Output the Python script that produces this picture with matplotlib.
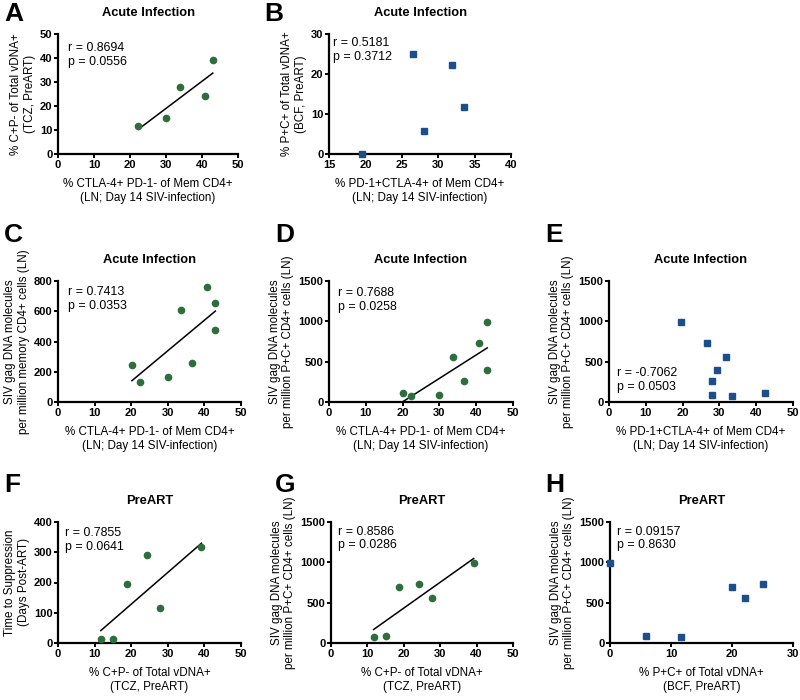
import numpy as np
import matplotlib
matplotlib.use("Agg")
import matplotlib.pyplot as plt

plt.rcParams['font.family'] = ['Liberation Sans', 'DejaVu Sans']

GREEN = "#2d6e3c"
BLUE = "#1c4f8a"

# Panel data
A_x = [22.3, 30.0, 33.8, 40.9, 43.0]
A_y = [11.5, 15.0, 27.8, 24.3, 39.0]
B_x = [19.6, 26.5, 28.1, 31.9, 33.5]
B_y = [0.0, 25.0, 5.8, 22.2, 11.7]
C_x = [20.2, 22.3, 30.0, 33.7, 36.7, 40.8, 42.8, 43.0]
C_y = [245, 135, 165, 610, 258, 760, 478, 655]
D_x = [20.2, 22.3, 30.0, 33.7, 36.7, 40.8, 42.8, 43.0]
D_y = [115, 70, 85, 560, 255, 730, 395, 990]
E_x = [19.5, 26.5, 28.1, 28.1, 29.3, 31.9, 33.5, 42.4]
E_y = [990, 730, 255, 85, 395, 560, 70, 115]
F_x = [11.7, 15.0, 18.8, 24.3, 27.8, 39.2]
F_y = [13, 13, 195, 290, 117, 318]
G_x = [11.7, 15.0, 18.8, 24.3, 27.8, 39.2]
G_y = [70, 85, 700, 730, 560, 990]
H_x = [0.0, 5.9, 11.7, 20.0, 22.2, 25.0]
H_y = [990, 85, 70, 700, 560, 730]

W, H = 800, 700
fig = plt.figure(figsize=(8, 7), dpi=100)


def px_axes(x0, y0, x1, y1):
    return fig.add_axes([x0 / W, 1 - y1 / H, (x1 - x0) / W, (y1 - y0) / H])


def panel(box, xs, ys, color, marker, xlim, xticks, ylim, yticks,
          title, xlabel, ylabel, stats, fit=False, stats_pos=(0.05, 0.93)):
    ax = px_axes(*box)
    ax.set_xlim(*xlim)
    ax.set_ylim(*ylim)
    ax.set_xticks(xticks)
    ax.set_yticks(yticks)
    for s in ['top', 'right']:
        ax.spines[s].set_visible(False)
    for s in ['left', 'bottom']:
        ax.spines[s].set_linewidth(1.6)
    ax.tick_params(width=1.4, length=3, labelsize=8, pad=1)
    for lab in ax.get_xticklabels() + ax.get_yticklabels():
        lab.set_fontweight('bold')
    ax.plot(xs, ys, linestyle='none', marker=marker, color=color,
            markersize=4.5, clip_on=False, zorder=3)
    if fit:
        k, b = np.polyfit(xs, ys, 1)
        xx = np.array([min(xs), max(xs)])
        ax.plot(xx, k * xx + b, color='black', lw=1.1, zorder=2)
    ax.set_title(title, fontsize=9.3, fontweight='bold', pad=13)
    ax.set_xlabel(xlabel, fontsize=8.4, labelpad=6, linespacing=1.2)
    ax.set_ylabel(ylabel, fontsize=8.4, labelpad=3, linespacing=1.15)
    ax.text(stats_pos[0], stats_pos[1], stats, transform=ax.transAxes,
            fontsize=8.9, va='top', ha='left', linespacing=1.2)
    return ax


x_lab1 = "% CTLA-4+ PD-1- of Mem CD4+\n(LN; Day 14 SIV-infection)"
x_lab2 = "% PD-1+CTLA-4+ of Mem CD4+\n(LN; Day 14 SIV-infection)"
x_lab3 = "% C+P- of Total vDNA+\n(TCZ, PreART)"
x_lab4 = "% P+C+ of Total vDNA+\n(BCF, PreART)"
y_pc = "SIV gag DNA molecules\nper million P+C+ CD4+ cells (LN)"

panel((58, 34, 238, 154), A_x, A_y, GREEN, 'o', (0, 50), [0, 10, 20, 30, 40, 50],
      (0, 50), [0, 10, 20, 30, 40, 50], "Acute Infection", x_lab1,
      "% C+P- of Total vDNA+\n(TCZ, PreART)", "r = 0.8694\np = 0.0556", fit=True,
      stats_pos=(0.055, 0.935))
panel((329, 34, 511, 154), B_x, B_y, BLUE, 's', (15, 40), [15, 20, 25, 30, 35, 40],
      (0, 30), [0, 10, 20, 30], "Acute Infection", x_lab2,
      "% P+C+ of Total vDNA+\n(BCF, PreART)", "r = 0.5181\np = 0.3712",
      stats_pos=(0.02, 0.975))
panel((58, 281, 241, 402), C_x, C_y, GREEN, 'o', (0, 50), [0, 10, 20, 30, 40, 50],
      (0, 800), [0, 200, 400, 600, 800], "Acute Infection", x_lab1,
      "SIV gag DNA molecules\nper million memory CD4+ cells (LN)",
      "r = 0.7413\np = 0.0353", fit=True, stats_pos=(0.055, 0.96))
panel((329, 281, 513, 402), D_x, D_y, GREEN, 'o', (0, 50), [0, 10, 20, 30, 40, 50],
      (0, 1500), [0, 500, 1000, 1500], "Acute Infection", x_lab1, y_pc,
      "r = 0.7688\np = 0.0258", fit=True, stats_pos=(0.05, 0.95))
panel((609, 281, 793, 402), E_x, E_y, BLUE, 's', (0, 50), [0, 10, 20, 30, 40, 50],
      (0, 1500), [0, 500, 1000, 1500], "Acute Infection", x_lab2, y_pc,
      "r = -0.7062\np = 0.0503", stats_pos=(0.045, 0.29))
panel((58, 522, 241, 643), F_x, F_y, GREEN, 'o', (0, 50), [0, 10, 20, 30, 40, 50],
      (0, 400), [0, 100, 200, 300, 400], "PreART", x_lab3,
      "Time to Suppression\n(Days Post-ART)", "r = 0.7855\np = 0.0641", fit=True,
      stats_pos=(0.04, 0.96))
panel((331, 522, 513, 643), G_x, G_y, GREEN, 'o', (0, 50), [0, 10, 20, 30, 40, 50],
      (0, 1500), [0, 500, 1000, 1500], "PreART", x_lab3, y_pc,
      "r = 0.8586\np = 0.0286", fit=True, stats_pos=(0.04, 0.97))
panel((610, 522, 793, 643), H_x, H_y, BLUE, 's', (0, 30), [0, 10, 20, 30],
      (0, 1500), [0, 500, 1000, 1500], "PreART", x_lab4, y_pc,
      "r = 0.09157\np = 0.8630", stats_pos=(0.04, 0.97))

# panel letters
letters = [("A", 4, 14), ("B", 264, 14), ("C", 4, 235), ("D", 275, 235),
           ("E", 545, 235), ("F", 4, 485), ("G", 275, 485), ("H", 545, 485)]
for t, x, y in letters:
    fig.text(x / W, 1 - y / H, t, fontsize=19, fontweight='bold', va='center', ha='left')

fig.savefig("out.png", dpi=100, facecolor='white')
